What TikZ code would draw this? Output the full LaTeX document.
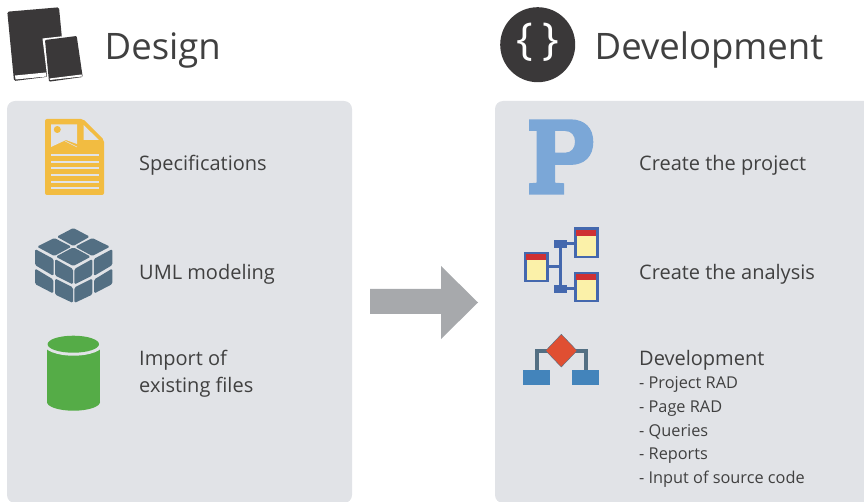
\documentclass[tikz,border=0pt]{standalone}
\usepackage{fontspec}
\setmainfont{Open Sans}
\definecolor{panelgray}{HTML}{E1E3E7}
\definecolor{inkgray}{HTML}{3A3839}
\definecolor{textgray}{HTML}{404040}
\definecolor{arrowgray}{HTML}{A7A9AC}
\definecolor{docyellow}{HTML}{F2BC41}
\definecolor{cubeblue}{HTML}{536F83}
\definecolor{dbgreen}{HTML}{55AC47}
\definecolor{pblue}{HTML}{7BA7D7}
\definecolor{tableblue}{HTML}{4468AE}
\definecolor{tablered}{HTML}{CE3033}
\definecolor{tableyellow}{HTML}{FBF1A9}
\definecolor{flowred}{HTML}{E04F32}
\definecolor{flowblue}{HTML}{4384BB}
\tikzset{
  title/.style={anchor=west,inner sep=0pt,text=textgray,font=\fontsize{36.5}{36.5}\selectfont},
  label/.style={anchor=west,inner sep=0pt,text=textgray,font=\fontsize{20}{24}\selectfont,align=left},
  sublabel/.style={anchor=west,inner sep=0pt,text=textgray,font=\fontsize{16.3}{16.3}\selectfont},
  panel/.style={fill=panelgray,rounded corners=8pt},
}
\begin{document}
\begin{tikzpicture}[x=1pt,y=-1pt]
  \useasboundingbox (0,0) rectangle (864,502);

  \fill[panel] (7,101) rectangle (352,503);
  \fill[panel] (495,101) rectangle (880,503);

  % books
  \fill[inkgray,rounded corners=1.5pt] (7.3,11.7) -- (59,7.3) -- (65,70) -- (46,77) -- (14,81) -- cycle;
  \fill[white] (15,75.5) -- (46,72.5) -- (46.5,76.5) -- (15.5,79.5) -- cycle;
  \fill[white] (42.5,38.5) -- (78,34.5) -- (84.5,78) -- (48,83) -- cycle;
  \fill[inkgray,rounded corners=1pt] (45,40) -- (76.7,36) -- (82.7,77) -- (49,81.7) -- cycle;
  \fill[white] (49.5,78.5) -- (81.5,74.5) -- (82,76.5) -- (50,80) -- cycle;

  % document
  \fill[docyellow,rounded corners=2pt] (45,119) -- (83,119) -- (104,140) -- (104,195) -- (45,195) -- cycle;
  \fill[panelgray] (51,124.5) -- (77,124.5) -- (77,144) -- (66,140) -- (51,147) -- cycle;
  \fill[docyellow] (57.3,129.5) circle (3.5);
  \draw[panelgray,line width=.6pt] (65,141) -- (77,147);
  \fill[panelgray] (83.5,125) -- (99,140) -- (83.5,140) -- cycle;
  \foreach \y in {155,161.7,168.3,175,181.7,188}
    \fill[panelgray] (51,\y-1) rectangle (99,\y+1);

  % cube
  \foreach \a/\b/\c/\d in {
    {73.3,228}/{89.8,236.7}/{73.3,246}/{56.8,236.7},
    {54.3,238}/{71.5,246.7}/{54.3,256}/{37,246.7},
    {92.3,238}/{110,246.7}/{92.3,256}/{75.2,246.7},
    {73.3,247.3}/{90.8,256.7}/{73.3,266}/{55.8,256.7},
    {35,249}/{53.6,259}/{53.6,276}/{35,265},
    {55,259}/{73,269}/{73,284.5}/{55,275.5},
    {35,268.5}/{53.3,279.5}/{53.3,293.5}/{35,284},
    {55,278.5}/{73,287.5}/{73,303}/{55,294.5},
    {112.4,249}/{93.8,259}/{93.8,276}/{112.4,265},
    {92.4,259}/{74.4,269}/{74.4,284.5}/{92.4,275.5},
    {112.4,268.5}/{94.1,279.5}/{94.1,293.5}/{112.4,284},
    {92.4,278.5}/{74.4,287.5}/{74.4,303}/{92.4,294.5}}
    \fill[cubeblue,rounded corners=1.5pt] (\a) -- (\b) -- (\c) -- (\d) -- cycle;

  % database
  \fill[dbgreen] (47,349) rectangle (100,402);
  \fill[dbgreen] (73.5,402) ellipse (26.5 and 8.7);
  \fill[panelgray] (73.5,344) ellipse (30 and 11.7);
  \fill[dbgreen] (73.3,344.2) ellipse (25.7 and 8.5);

  % big arrow
  \fill[arrowgray] (370,289) -- (441,289) -- (441,266) -- (478,302.5) -- (441,339) -- (441,314) -- (370,314) -- cycle;

  % braces
  \fill[inkgray] (537.7,44.7) circle (37.5);
  \node[text=white,font=\fontsize{44}{44}\selectfont] (braces) at (537.7,42.5) {\{\kern10pt\}};

  % P
  \fill[pblue,even odd rule] (529,119.3) -- (570,119.3) .. controls (585,119.3) and (593.3,128) .. (593.3,142)
    .. controls (593.3,156) and (585,165) .. (570,165) -- (555,165) -- (555,182.7) -- (564,183.3) -- (564,194.7)
    -- (529,194.7) -- (529,183.3) -- (536.7,182.7) -- (536.7,131) -- (529,131) -- cycle
    (555,131) -- (565,131) .. controls (571.5,131) and (575,135.5) .. (575,141.7)
    .. controls (575,148) and (571.5,152.7) .. (565,152.7) -- (555,152.7) -- cycle;

  % analysis tables
  \draw[tableblue,line width=3pt] (524,266.3) -- (561,266.3);
  \draw[tableblue,line width=3pt] (560.7,244) -- (560.7,288.5);
  \draw[tableblue,line width=3pt] (560.7,243.3) -- (574,243.3);
  \draw[tableblue,line width=3pt] (560.7,288.3) -- (574,288.3);
  \fill[tableblue] (554,240) rectangle (566.7,248);
  \fill[tableblue] (554,285) rectangle (566.7,292.7);
  \foreach \x/\y in {524/251.7,574/227.3,574/271.7} {
    \fill[tableblue] (\x,\y) rectangle (\x+24.5,\y+30.8);
    \fill[tableyellow] (\x+2.5,\y+2.5) rectangle (\x+22,\y+28.3);
    \fill[tablered] (\x+2.3,\y+2.3) rectangle (\x+22.2,\y+8.5);
  }

  % flow chart
  \draw[cubeblue,line width=4pt] (536.7,372) -- (536.7,351) -- (586,351) -- (586,372);
  \fill[flowblue] (523,370) rectangle (550,385);
  \fill[flowblue] (572,370) rectangle (599,385);
  \fill[flowred,draw=cubeblue,line width=.4pt] (561.3,334.3) -- (577,350.7) -- (561.3,367) -- (545.7,350.7) -- cycle;

  \node[title] (design) at (104.5,50) {Design};
  \node[title] (development) at (594.5,50) {Development};

  \node[label] (specs) at (139,165.5) {Specifications};
  \node[label] (uml) at (139,274) {UML modeling};
  \node[label] (import) at (139,374) {Import of\\[3pt]existing files};

  \node[label] (project) at (639,165.5) {Create the project};
  \node[label] (analysis) at (639,274) {Create the analysis};
  \node[label] (devel) at (639,360) {Development};
  \node[sublabel] (rad) at (639,384) {- Project RAD};
  \node[sublabel] (page) at (639,408.5) {- Page RAD};
  \node[sublabel] (queries) at (639,432) {- Queries};
  \node[sublabel] (reports) at (639,455.5) {- Reports};
  \node[sublabel] (source) at (639,479.5) {- Input of source code};
\end{tikzpicture}
\end{document}
